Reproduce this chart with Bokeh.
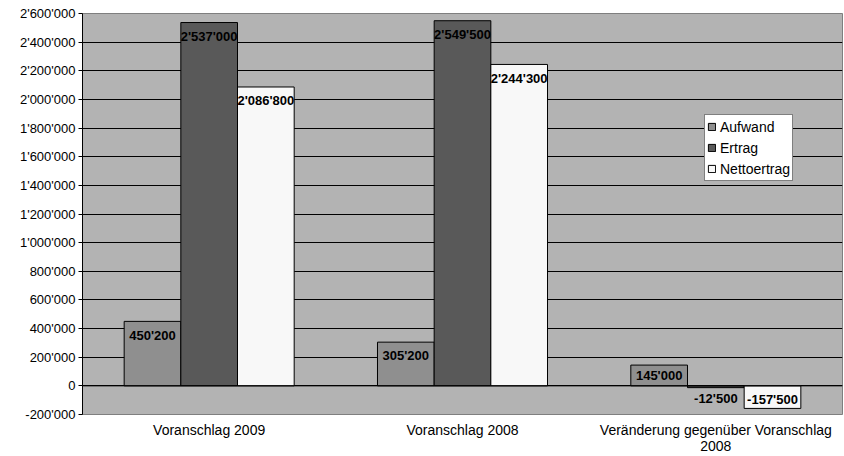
from bokeh.plotting import figure
from bokeh.models import FactorRange, FixedTicker, Legend, LegendItem, Span, ColumnDataSource
from bokeh.transform import dodge
from bokeh.core.properties import value
from bokeh.embed import file_html
from bokeh.resources import INLINE

# ---- data ----
categories = ["Voranschlag 2009", "Voranschlag 2008", "Veränderung gegenüber Voranschlag\n2008"]
series_names = ["Aufwand", "Ertrag", "Nettoertrag"]
aufwand = [450200, 305200, 145000]
ertrag = [2537000, 2549500, -12500]
nettoertrag = [2086800, 2244300, -157500]
y_ticks = [-200000, 0, 200000, 400000, 600000, 800000, 1000000, 1200000, 1400000,
           1600000, 1800000, 2000000, 2200000, 2400000, 2600000]
y_tick_labels = ["-200'000", "0", "200'000", "400'000", "600'000", "800'000", "1'000'000",
                 "1'200'000", "1'400'000", "1'600'000", "1'800'000", "2'000'000",
                 "2'200'000", "2'400'000", "2'600'000"]

# ---- styles ----
colors = ["#8F8F8F", "#595959", "#F8F8F8"]
label_offsets = [[14, 13, 10], [14, 14, 10.5], [14, 14, -8.5]]  # px below value
FONT = "Liberation Sans"
bar_w = 0.2237

def fmt(v):
    return f"{v:,}".replace(",", "'")

p = figure(width=844, height=456, x_range=FactorRange(factors=categories),
           y_range=(-200000, 2600000), output_backend="svg", toolbar_location=None,
           min_border_left=82, min_border_right=2, min_border_top=13, min_border_bottom=41)
p.border_fill_color = "white"
p.background_fill_color = "#B3B3B3"
p.outline_line_color = "#7F7F7F"
p.outline_line_width = 1

p.xgrid.grid_line_color = None
p.ygrid.grid_line_color = "black"
p.ygrid.grid_line_width = 1
p.ygrid.ticker = FixedTicker(ticks=y_ticks)

series = [aufwand, ertrag, nettoertrag]
offsets = [-bar_w, 0.0, bar_w]
renderers = []
for name, vals, col, off in zip(series_names, series, colors, offsets):
    src = ColumnDataSource(dict(cat=categories, val=vals))
    r = p.vbar(x=dodge("cat", off, range=p.x_range), top="val", bottom=0, width=bar_w,
               source=src, fill_color=col, line_color="black", line_width=1)
    renderers.append((name, r))

for name, vals, col, off, lo in zip(series_names, series, colors, offsets, label_offsets):
    src = ColumnDataSource(dict(cat=categories, val=vals, lab=[fmt(v) for v in vals], yo=lo))
    p.text(x=dodge("cat", off, range=p.x_range), y="val", text="lab", y_offset="yo", source=src,
           text_align="center", text_baseline="middle", text_font=value(FONT),
           text_font_size="13px", text_font_style="bold", text_color="black")

p.add_layout(Span(location=0, dimension="width", line_color="black", line_width=1))

# axes
p.yaxis.ticker = FixedTicker(ticks=y_ticks)
p.yaxis.major_label_overrides = {t: l for t, l in zip(y_ticks, y_tick_labels)}
p.yaxis.axis_line_color = "black"
p.yaxis.major_tick_line_color = "black"
p.yaxis.major_tick_out = 4
p.yaxis.major_tick_in = 0
p.yaxis.minor_tick_line_color = None
p.yaxis.major_label_standoff = 3
p.yaxis.major_label_text_font = FONT
p.yaxis.major_label_text_font_size = "13px"
p.yaxis.major_label_text_color = "black"

p.xaxis.axis_line_color = None
p.xaxis.major_tick_line_color = None
p.xaxis.major_tick_out = 0
p.xaxis.minor_tick_line_color = None
p.xaxis.major_label_standoff = 7
p.xaxis.major_label_text_font = FONT
p.xaxis.major_label_text_font_size = "14px"
p.xaxis.major_label_text_color = "black"
p.xaxis.major_label_text_line_height = 1.0

legend = Legend(items=[LegendItem(label=n, renderers=[r]) for n, r in renderers],
                location=(622, 233), orientation="vertical",
                background_fill_color="white", background_fill_alpha=1,
                border_line_color="black", border_line_width=1,
                label_text_font=FONT, label_text_font_size="14px", label_text_color="black",
                glyph_width=9, glyph_height=9, label_height=19, spacing=2, padding=2,
                margin=0, label_standoff=4)
p.add_layout(legend)

open("out.html", "w").write(file_html(p, INLINE))
